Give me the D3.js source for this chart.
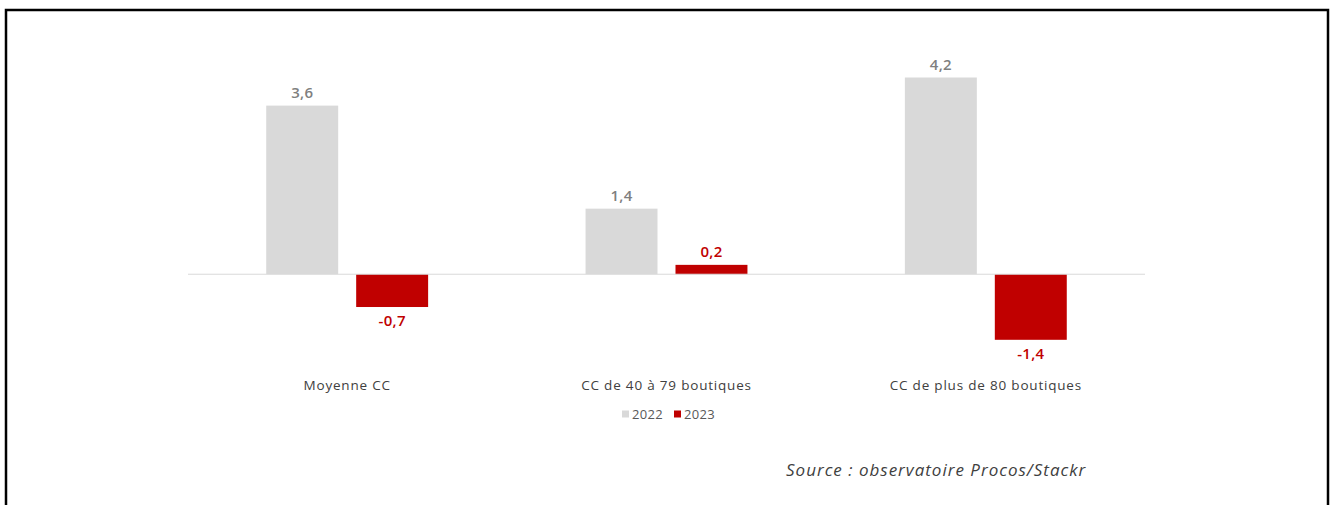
<!DOCTYPE html>
<html>
<head>
<meta charset="utf-8">
<script src="https://cdn.jsdelivr.net/npm/d3@7"></script>
<style>
  html, body { margin: 0; padding: 0; background: #fff; }
  svg { display: block; }
</style>
</head>
<body>
<svg id="chart" width="1331" height="505"></svg>
<script>
// Categories, series and labels
const categories = ["Moyenne CC", "CC de 40 à 79 boutiques", "CC de plus de 80 boutiques"];
const seriesNames = ["2022", "2023"];
const values2022 = [3.6, 1.4, 4.2];
const values2023 = [-0.7, 0.2, -1.4];
const seriesColors = ["#d9d9d9", "#c00000"];
const labelColors = ["#7f7f7f", "#c00000"];
const sourceText = "Source : observatoire Procos/Stackr";

const series = [values2022, values2023];
// French decimal comma, plain hyphen for negatives
const fmt = v => (v < 0 ? "-" : "") + Math.abs(v).toFixed(1).replace(".", ",");

const svg = d3.select("#chart");
const font = "'Open Sans', 'Liberation Sans', sans-serif";

// Outer frame
svg.append("rect")
  .attr("x", 6).attr("y", 10)
  .attr("width", 1322).attr("height", 520)
  .attr("fill", "none").attr("stroke", "#000").attr("stroke-width", 2.5);

// Scales
const x0 = d3.scaleBand().domain(categories).range([188, 1145]).paddingInner(0.493).paddingOuter(0.245);
const x1 = d3.scaleBand().domain(seriesNames).range([0, x0.bandwidth()]).paddingInner(0.2);
const y = d3.scaleLinear().domain([-1.4, 4.2]).range([339.8, 77.5]);

// Bars
const groups = svg.append("g").selectAll("g")
  .data(categories)
  .join("g")
  .attr("transform", d => `translate(${x0(d)},0)`);

groups.selectAll("rect")
  .data((d, i) => seriesNames.map((s, j) => ({ s, j, v: series[j][i] })))
  .join("rect")
  .attr("x", d => x1(d.s))
  .attr("width", x1.bandwidth())
  .attr("y", d => y(Math.max(0, d.v)))
  .attr("height", d => Math.abs(y(d.v) - y(0)))
  .attr("fill", d => seriesColors[d.j]);

// Value labels
groups.selectAll("text")
  .data((d, i) => seriesNames.map((s, j) => ({ s, j, v: series[j][i] })))
  .join("text")
  .attr("x", d => x1(d.s) + x1.bandwidth() / 2)
  .attr("y", d => d.v >= 0 ? y(d.v) - 8 : y(d.v) + 19)
  .attr("text-anchor", "middle")
  .attr("font-family", font)
  .attr("font-weight", 600)
  .attr("font-size", 15)
  .attr("letter-spacing", 0.3)
  .attr("fill", d => labelColors[d.j])
  .text(d => fmt(d.v));

// Zero line
svg.append("line")
  .attr("x1", 188).attr("x2", 1145)
  .attr("y1", y(0)).attr("y2", y(0))
  .attr("stroke", "#d9d9d9").attr("stroke-width", 1);

// Category axis labels
const xAxis = d3.axisBottom(x0).tickSize(0).tickPadding(0);
const axisG = svg.append("g").attr("transform", "translate(0,380.5)").call(xAxis);
axisG.select(".domain").remove();
axisG.selectAll("text")
  .attr("font-family", font)
  .attr("font-size", 13.5)
  .attr("letter-spacing", 0.8)
  .attr("fill", "#404040");

// Legend
const legendItems = [{ name: seriesNames[0], x: 622 }, { name: seriesNames[1], x: 674 }];
const leg = svg.append("g").selectAll("g")
  .data(legendItems)
  .join("g")
  .attr("transform", d => `translate(${d.x},0)`);
leg.append("rect")
  .attr("x", 0).attr("y", 410.5)
  .attr("width", 7).attr("height", 7)
  .attr("fill", (d, i) => seriesColors[i]);
leg.append("text")
  .attr("x", 10).attr("y", 418.5)
  .attr("font-family", font)
  .attr("font-size", 13)
  .attr("letter-spacing", 0.3)
  .attr("fill", "#595959")
  .text(d => d.name);

// Source note
svg.append("text")
  .attr("x", 786).attr("y", 476)
  .attr("font-family", font)
  .attr("font-style", "italic")
  .attr("font-size", 17)
  .attr("letter-spacing", 1)
  .attr("fill", "#404040")
  .text(sourceText);
</script>
</body>
</html>
